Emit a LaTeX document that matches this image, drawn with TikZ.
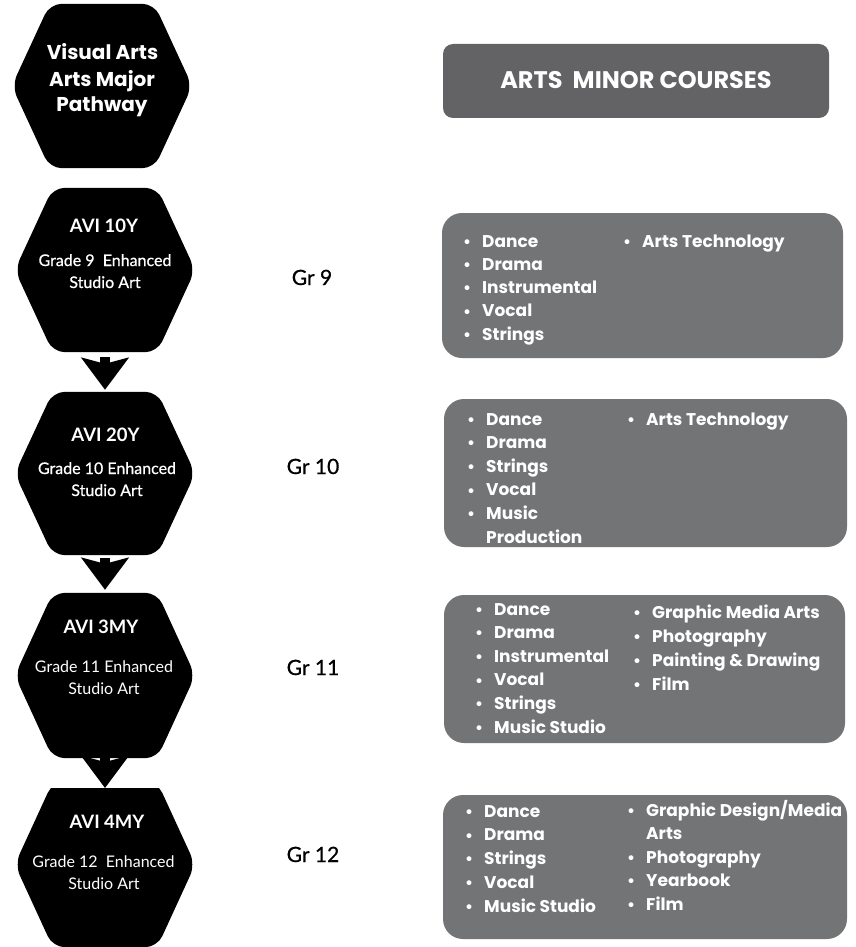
\documentclass[tikz,border=0pt]{standalone}
\usepackage{fontspec}
\setmainfont{Poppins}
\newfontfamily\latof{Lato}
\newfontfamily\latomed[FakeBold=0.7]{Lato}
\usetikzlibrary{arrows.meta,calc}
\definecolor{hdrgray}{HTML}{636365}
\definecolor{boxgray}{HTML}{737476}
\newcommand\bul{\makebox[19pt][l]{\raisebox{-0.02em}{\fontsize{16}{16}\selectfont\bfseries\textbullet}}}
\newcommand\nobul{\makebox[19pt][l]{}}
\newcommand\hexshape[1]{%
  \fill[hexfill] (#1.west) -- ([xshift=38pt]#1.north west) -- ([xshift=-38pt]#1.north east)
    -- (#1.east) -- ([xshift=-38pt]#1.south east) -- ([xshift=38pt]#1.south west) -- cycle;}
\tikzset{
  hexfill/.style={fill=black, rounded corners=12pt},
  hexbox/.style={rectangle, draw=none, inner sep=0pt, minimum width=180pt},
  hextitle/.style={text=white, font=\bfseries\fontsize{20}{26}\selectfont, anchor=base},
  avilabel/.style={text=white, font=\latof\bfseries\fontsize{18.5}{22}\selectfont, anchor=base},
  gradelabel/.style={text=white, font=\latomed\fontsize{16}{19}\selectfont, anchor=base},
  gradelight/.style={text=white, font=\latof\fontsize{16}{19}\selectfont, anchor=base},
  grlabel/.style={text=black, font=\latomed\fontsize{21}{24}\selectfont, anchor=base},
  hdrbox/.style={fill=hdrgray, rounded corners=10pt, inner sep=0pt},
  listbox/.style={fill=boxgray, rounded corners=20pt, inner sep=0pt},
  hdrtext/.style={text=white, font=\bfseries\fontsize{24}{28}\selectfont, anchor=base},
  item/.style={text=white, font=\bfseries\fontsize{17}{20}\selectfont, anchor=base west, inner sep=0pt},
  flowarrow/.style={line width=10pt, -{Stealth[width=47pt,length=32pt,inset=6pt]}},
}
\begin{document}
\begin{tikzpicture}[x=1pt,y=-1pt]
\useasboundingbox (0,0) rectangle (856,947);
\fill[white] (0,0) rectangle (856,947);

% hexagon frames
\node[hexbox, minimum height=164pt] (h1) at (102,86) {};
\node[hexbox, minimum height=164pt] (h2) at (105,270) {};
\node[hexbox, minimum height=163pt] (h3) at (105,473.5) {};
\node[hexbox, minimum height=165pt] (h4) at (105,675.5) {};
\node[hexbox, minimum height=165pt] (h5) at (105,864.5) {};
\coordinate (h5top) at (105,788);

% arrows
\draw[flowarrow, shorten <=5pt, shorten >=2pt] (h2.south) -- (h3.north);
\draw[flowarrow, shorten <=3pt, shorten >=3pt] (h3.south) -- (h4.north);

% hexagons
\hexshape{h1}
\hexshape{h2}
\hexshape{h3}
\hexshape{h4}
\begin{scope}
  \clip (0,788) rectangle (856,947);
  \hexshape{h5}
\end{scope}
\draw[flowarrow] ([yshift=4pt]h4.south) -- (h5top);

% hexagon texts
\node[hextitle] (t1a) at (102.5,60) {Visual Arts};
\node[hextitle] (t1b) at (102,87) {Arts Major};
\node[hextitle] (t1c) at (102,112) {Pathway};

\node[avilabel] (t2a) at (104,232) {AVI 10Y};
\node[gradelabel] (t2b) at (105,266) {Grade 9\ \ Enhanced};
\node[gradelabel] (t2c) at (105,288) {Studio Art};

\node[avilabel] (t3a) at (105.5,441) {AVI 20Y};
\node[gradelabel] (t3b) at (107,474) {Grade 10 Enhanced};
\node[gradelabel] (t3c) at (107,496) {Studio Art};

\node[avilabel] (t4a) at (101,633) {AVI 3MY};
\node[gradelight] (t4b) at (104,672) {Grade 11 Enhanced};
\node[gradelight] (t4c) at (104,694) {Studio Art};

\node[avilabel] (t5a) at (107,828) {AVI 4MY};
\node[gradelight] (t5b) at (103.5,867) {Grade 12\ \ Enhanced};
\node[gradelight] (t5c) at (104,889) {Studio Art};

% grade labels
\node[grlabel] (g9) at (312,285) {Gr 9};
\node[grlabel] (g10) at (313,474) {Gr 10};
\node[grlabel] (g11) at (313,675) {Gr 11};
\node[grlabel] (g12) at (313,862) {Gr 12};

% header box
\node[hdrbox, minimum width=386pt, minimum height=74pt] (hdr) at (636,81) {};
\node[hdrtext] (hdrt) at (636,89) {ARTS\ \ MINOR COURSES};

% list boxes
\node[listbox, minimum width=401pt, minimum height=145pt] (b1) at (642.5,285.5) {};
\node[listbox, minimum width=403pt, minimum height=148pt] (b2) at (645.5,473) {};
\node[listbox, minimum width=401pt, minimum height=148pt] (b3) at (644.5,669) {};
\node[listbox, minimum width=404pt, minimum height=144pt] (b4) at (645,867) {};

% box 1 (Gr 9)
\foreach \t [count=\i from 0] in {Dance,Drama,Instrumental,Vocal,Strings}
  \node[item] (a1-\i) at (463,247+23.3*\i) {\bul\t};
\node[item] (c1-0) at (623,247) {\bul Arts Technology};

% box 2 (Gr 10)
\foreach \t [count=\i from 0] in {Dance,Drama,Strings,Vocal,Music}
  \node[item] (a2-\i) at (467,425+23.6*\i) {\bul\t};
\node[item] (a2-5) at (467,543) {\nobul Production};
\node[item] (c2-0) at (627,425) {\bul Arts Technology};

% box 3 (Gr 11)
\foreach \t [count=\i from 0] in {Dance,Drama,Instrumental,Vocal,Strings,Music Studio}
  \node[item] (a3-\i) at (475,615+23.6*\i) {\bul\t};
\foreach \t [count=\i from 0] in {Graphic Media Arts,Photography,Painting \& Drawing,Film}
  \node[item] (c3-\i) at (633,618+24*\i) {\bul\t};

% box 4 (Gr 12)
\begin{scope}
  \clip[rounded corners=20pt] (b4.south west) rectangle (b4.north east);
  \foreach \t [count=\i from 0] in {Dance,Drama,Strings,Vocal,Music Studio}
    \node[item] (a4-\i) at (465,817+23.75*\i) {\bul\t};
  \node[item] (c4-0) at (627,816) {\bul Graphic Design/Media};
  \node[item] (c4-1) at (627,839.5) {\nobul Arts};
  \node[item] (c4-2) at (627,863) {\bul Photography};
  \node[item] (c4-3) at (627,886.5) {\bul Yearbook};
  \node[item] (c4-4) at (627,910) {\bul Film};
\end{scope}
\end{tikzpicture}
\end{document}
